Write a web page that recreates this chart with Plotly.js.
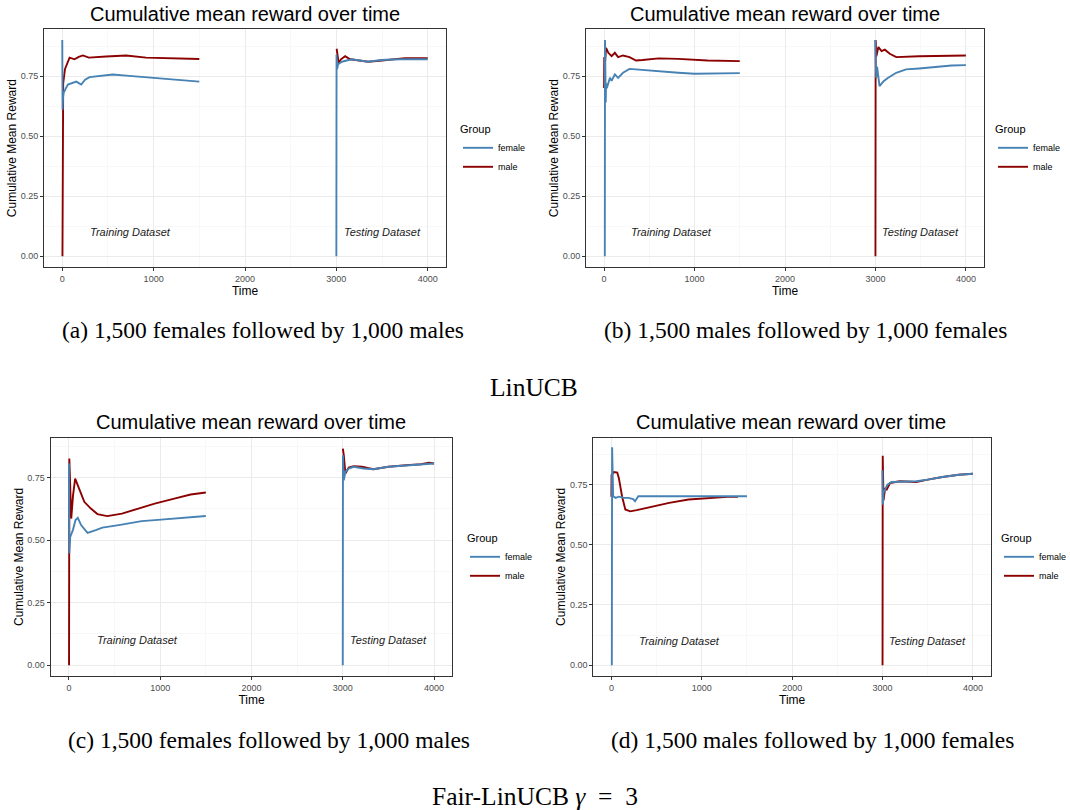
<!DOCTYPE html>
<html>
<head>
<meta charset="utf-8">
<script src="https://cdn.plot.ly/plotly-3.0.1.min.js"></script>
<style>html,body{margin:0;padding:0;background:#fff;}#chart{width:1070px;height:810px;}</style>
</head>
<body>
<div id="chart"></div>
<script>
// ---------- data ----------
const groups = ["female", "male"];
const xTicks = [0, 1000, 2000, 3000, 4000];
const yTicks = [0, 0.25, 0.5, 0.75];
const yTickLabels = ["0.00", "0.25", "0.50", "0.75"];
const panelTitle = "Cumulative mean reward over time";
const captions = ["(a) 1,500 females followed by 1,000 males", "(b) 1,500 males followed by 1,000 females",
                  "(c) 1,500 females followed by 1,000 males", "(d) 1,500 males followed by 1,000 females"];
const rowLabels = ["LinUCB", "Fair-LinUCB <i>γ</i>&nbsp;&nbsp;=&nbsp;&nbsp;3"];
const datasetLabels = ["Training Dataset", "Testing Dataset"];
const datasetLabelT = [750, 3500];
const datasetLabelV = 0.1;

// panel (a)
const a_f_t  = [0, 3, 8, 15, 25, 40, 62, 100, 153, 207, 250, 298, 400, 553, 700, 844, 1000, 1208, 1350, 1500];
const a_f_v  = [0.90, 0.61, 0.66, 0.68, 0.69, 0.70, 0.715, 0.72, 0.727, 0.715, 0.735, 0.746, 0.750, 0.757, 0.752, 0.747, 0.743, 0.736, 0.731, 0.727];
const a_m_t  = [2, 5, 10, 30, 60, 80, 134, 180, 226, 290, 480, 699, 917, 1100, 1208, 1500];
const a_m_v  = [0.0, 0.60, 0.72, 0.78, 0.81, 0.827, 0.82, 0.83, 0.836, 0.827, 0.832, 0.836, 0.827, 0.825, 0.824, 0.821];
const a_f_t2 = [3000, 3002, 3008, 3020, 3060, 3168, 3346, 3490, 3700, 4000];
const a_f_v2 = [0.0, 0.84, 0.78, 0.80, 0.81, 0.82, 0.81, 0.817, 0.82, 0.82];
const a_m_t2 = [3003, 3025, 3050, 3096, 3150, 3350, 3500, 3750, 4000];
const a_m_v2 = [0.864, 0.805, 0.82, 0.833, 0.82, 0.81, 0.815, 0.825, 0.825];

// panel (b)
const b_f_t  = [8, 10, 18, 22, 30, 65, 83, 119, 155, 209, 281, 424, 604, 820, 1000, 1324, 1500];
const b_f_v  = [0.0, 0.90, 0.64, 0.72, 0.70, 0.743, 0.73, 0.757, 0.743, 0.764, 0.78, 0.775, 0.771, 0.764, 0.76, 0.76, 0.7625];
const b_m_t  = [0, 2, 6, 22, 47, 83, 119, 155, 209, 281, 353, 424, 604, 820, 1000, 1144, 1500];
const b_m_v  = [0.70, 0.83, 0.78, 0.868, 0.847, 0.833, 0.847, 0.829, 0.836, 0.829, 0.815, 0.817, 0.824, 0.822, 0.819, 0.815, 0.8125];
const b_f_t2 = [2998, 3008, 3018, 3045, 3090, 3140, 3230, 3338, 3482, 3662, 3842, 4000];
const b_f_v2 = [0.90, 0.743, 0.79, 0.708, 0.729, 0.743, 0.764, 0.778, 0.782, 0.789, 0.794, 0.796];
const b_m_t2 = [3000, 3002, 3010, 3032, 3068, 3104, 3158, 3230, 3338, 3482, 3662, 4000];
const b_m_v2 = [0.0, 0.90, 0.833, 0.871, 0.854, 0.86, 0.843, 0.829, 0.832, 0.833, 0.834, 0.836];

// panel (c)
const c_f_t  = [0, 4, 14, 43, 72, 97, 133, 204, 294, 366, 545, 796, 1011, 1250, 1500];
const c_f_v  = [0.806, 0.447, 0.513, 0.54, 0.58, 0.589, 0.56, 0.529, 0.54, 0.55, 0.56, 0.576, 0.582, 0.589, 0.596];
const c_m_t  = [1, 4, 25, 45, 68, 115, 168, 240, 312, 419, 581, 760, 939, 1154, 1333, 1500];
const c_m_v  = [0.0, 0.826, 0.586, 0.68, 0.746, 0.70, 0.653, 0.626, 0.604, 0.596, 0.606, 0.626, 0.646, 0.666, 0.682, 0.69];
const c_f_t2 = [3000, 3002, 3011, 3029, 3065, 3119, 3227, 3335, 3500, 3694, 3874, 4000];
const c_f_v2 = [0.0, 0.839, 0.739, 0.773, 0.786, 0.793, 0.786, 0.783, 0.793, 0.798, 0.803, 0.806];
const c_m_t2 = [3001, 3011, 3029, 3065, 3119, 3209, 3335, 3500, 3694, 3856, 3946, 4000];
const c_m_v2 = [0.866, 0.84, 0.766, 0.79, 0.795, 0.793, 0.783, 0.793, 0.799, 0.803, 0.809, 0.806];

// panel (d)
const d_f_t  = [5, 8, 20, 47, 83, 136, 190, 240, 262, 298, 460, 820, 1500];
const d_f_v  = [0.0, 0.905, 0.702, 0.695, 0.70, 0.695, 0.695, 0.69, 0.681, 0.702, 0.702, 0.702, 0.702];
const d_m_t  = [0, 2, 29, 65, 83, 118, 154, 208, 280, 388, 495, 639, 854, 1070, 1285, 1400];
const d_m_v  = [0.70, 0.79, 0.802, 0.80, 0.777, 0.702, 0.647, 0.639, 0.644, 0.654, 0.663, 0.674, 0.688, 0.695, 0.699, 0.699];
const d_f_t2 = [2999, 3004, 3011, 3029, 3054, 3101, 3192, 3373, 3500, 3663, 3844, 4000];
const d_f_v2 = [0.81, 0.667, 0.716, 0.73, 0.75, 0.761, 0.761, 0.764, 0.771, 0.782, 0.791, 0.795];
const d_m_t2 = [3000, 3002, 3011, 3029, 3047, 3083, 3192, 3373, 3500, 3663, 3844, 4000];
const d_m_v2 = [0.0, 0.87, 0.685, 0.736, 0.73, 0.757, 0.764, 0.761, 0.771, 0.782, 0.791, 0.795];

// ---------- build ----------
const W = 1070, H = 810;
const colors = {female: "#4682B4", male: "#8B0000"};
const panels = [
  {f: [a_f_t, a_f_v, a_f_t2, a_f_v2], m: [a_m_t, a_m_v, a_m_t2, a_m_v2], px: [44, 446], py: [29.3, 267], yr: [-0.045, 0.945], tx: 245, ty: 14, lx: 458, ly: 119, cx: 263, cy: 330},
  {f: [b_f_t, b_f_v, b_f_t2, b_f_v2], m: [b_m_t, b_m_v, b_m_t2, b_m_v2], px: [586, 984], py: [29.3, 267], yr: [-0.045, 0.945], tx: 785, ty: 14, lx: 993, ly: 119, cx: 805, cy: 330},
  {f: [c_f_t, c_f_v, c_f_t2, c_f_v2], m: [c_m_t, c_m_v, c_m_t2, c_m_v2], px: [50.7, 452.3], py: [437.7, 676], yr: [-0.0433, 0.9093], tx: 251, ty: 422, lx: 465, ly: 528, cx: 269, cy: 740},
  {f: [d_f_t, d_f_v, d_f_t2, d_f_v2], m: [d_m_t, d_m_v, d_m_t2, d_m_v2], px: [593.3, 991], py: [437.7, 676], yr: [-0.045, 0.945], tx: 791, ty: 422, lx: 999, ly: 528, cx: 812, cy: 740}
];

const traces = [];
const layout = {
  width: W, height: H,
  margin: {l: 0, r: 0, t: 0, b: 0, autoexpand: false},
  paper_bgcolor: "#ffffff", plot_bgcolor: "#ffffff",
  font: {family: "Liberation Sans, Arial, sans-serif", color: "#000"},
  annotations: [], showlegend: true
};

panels.forEach((p, i) => {
  const n = i === 0 ? "" : String(i + 1);
  const xa = "x" + n, ya = "y" + n;
  const lg = i === 0 ? "legend" : "legend" + (i + 1);
  // male first, female drawn over it; legend order via legendrank
  [["male", p.m], ["female", p.f]].forEach(([g, arr]) => {
    traces.push({
      type: "scatter", mode: "lines",
      x: arr[0].concat([null], arr[2]),
      y: arr[1].concat([null], arr[3]),
      name: g, xaxis: xa, yaxis: ya, legend: lg,
      legendrank: g === "female" ? 1 : 2,
      connectgaps: false,
      line: {color: colors[g], width: 1.9},
      hoverinfo: "skip"
    });
  });
  const axCommon = {
    showline: true, mirror: true, linecolor: "#333333", linewidth: 1,
    showgrid: true, gridcolor: "#EBEBEB", gridwidth: 1, zeroline: false,
    ticks: "outside", ticklen: 3, tickcolor: "#333333", tickwidth: 1,
    tickfont: {size: 9, color: "#4D4D4D", family: "Liberation Sans, Arial, sans-serif"}
  };
  layout["xaxis" + n] = Object.assign({}, axCommon, {
    domain: [p.px[0] / W, p.px[1] / W], anchor: ya,
    range: [-200, 4200], tickvals: xTicks, ticktext: xTicks.map(String),
    minor: {dtick: 500, tick0: 0, showgrid: true, gridcolor: "#F4F4F4", gridwidth: 0.6},
    title: {text: "Time", font: {size: 12, color: "#000"}, standoff: 3}
  });
  layout["yaxis" + n] = Object.assign({}, axCommon, {
    domain: [1 - p.py[1] / H, 1 - p.py[0] / H], anchor: xa,
    range: p.yr, tickvals: yTicks, ticktext: yTickLabels,
    minor: {dtick: 0.125, tick0: 0, showgrid: true, gridcolor: "#F4F4F4", gridwidth: 0.6},
    title: {text: "Cumulative Mean Reward", font: {size: 12, color: "#000"}, standoff: 1}
  });
  layout[lg] = {
    x: p.lx / W, y: 1 - p.ly / H, xanchor: "left", yanchor: "top",
    xref: "paper", yref: "paper",
    bgcolor: "rgba(0,0,0,0)", borderwidth: 0,
    title: {text: "Group", font: {size: 11, color: "#000"}},
    font: {size: 9, color: "#000"}, itemwidth: 30, tracegroupgap: 0
  };
  layout.annotations.push({
    xref: "paper", yref: "paper", x: p.tx / W, y: 1 - p.ty / H,
    text: panelTitle, showarrow: false, xanchor: "center", yanchor: "middle",
    font: {size: 20, color: "#000"}
  });
  datasetLabels.forEach((t, k) => layout.annotations.push({
    xref: xa, yref: ya, x: datasetLabelT[k], y: datasetLabelV,
    text: "<i>" + t + "</i>", showarrow: false, xanchor: "center", yanchor: "middle",
    font: {size: 11, color: "#1a1a1a"}
  }));
  layout.annotations.push({
    xref: "paper", yref: "paper", x: p.cx / W, y: 1 - p.cy / H,
    text: captions[i], showarrow: false, xanchor: "center", yanchor: "middle",
    font: {size: 23.5, color: "#000", family: "Liberation Serif, Times New Roman, serif"}
  });
});
[[534, 387], [535, 796]].forEach((pos, k) => layout.annotations.push({
  xref: "paper", yref: "paper", x: pos[0] / W, y: 1 - pos[1] / H,
  text: rowLabels[k], showarrow: false, xanchor: "center", yanchor: "middle",
  font: {size: 25.5, color: "#000", family: "Liberation Serif, Times New Roman, serif"}
}));

Plotly.newPlot("chart", traces, layout, {displayModeBar: false, staticPlot: true});
</script>
</body>
</html>
